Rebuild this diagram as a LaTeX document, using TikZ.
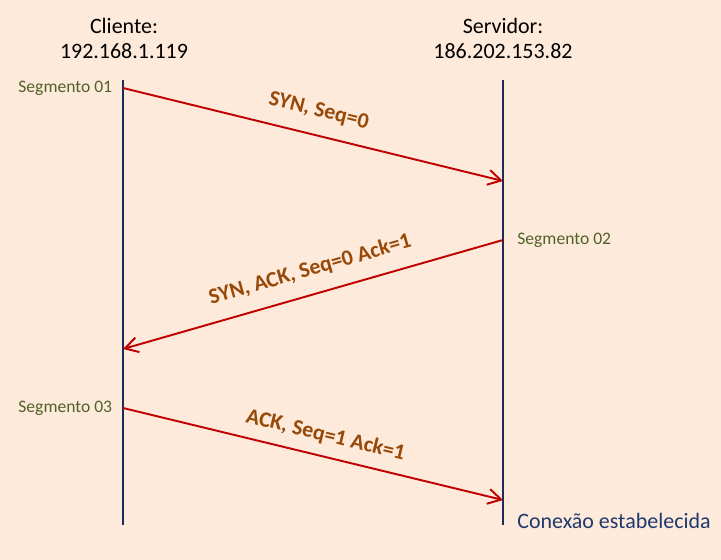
\documentclass[tikz,border=0pt]{standalone}
\usepackage{fontspec}
\setmainfont{Carlito}
\usepackage{xcolor}
\definecolor{cBg}{HTML}{FDEADA}
\definecolor{cLine}{HTML}{1C2A5C}
\definecolor{cMsg}{HTML}{C00000}
\definecolor{cLabel}{HTML}{984807}
\definecolor{cSeg}{HTML}{4F6228}
\definecolor{cNote}{HTML}{1F3A6E}
\usepackage{tikz}
\usetikzlibrary{positioning,arrows.meta}
\tikzset{
  host-label/.style={align=center,inner sep=0pt,
    font=\fontsize{12.5}{14.2}\selectfont},
  seg-label/.style={text=cSeg,inner sep=0pt,font=\fontsize{10}{12}\selectfont},
  note-label/.style={text=cNote,inner sep=0pt,font=\fontsize{12.5}{15}\selectfont},
  msg-label/.style={text=cLabel,inner sep=0pt,sloped,above=8pt,
    font=\bfseries\fontsize{12.5}{15}\selectfont},
  lifeline/.style={draw=cLine,line width=1.2pt},
  arrow-msg/.style={-{Straight Barb[length=2.6mm,width=3mm]},line width=1.1pt,draw=cMsg},
}

\begin{document}
\begin{tikzpicture}[x=0.02cm,y=-0.02cm]
  \fill[cBg] (0,0) rectangle (721,560);

  % hosts
  \node[host-label] (cli) at (124,38) {Cliente:\\192.168.1.119};
  \node[host-label] (srv) at (503,38) {Servidor:\\186.202.153.82};

  \coordinate (cli-top) at (123,80);
  \coordinate (cli-bot) at (123,525);
  \coordinate (srv-top) at (503,80);
  \coordinate (srv-bot) at (503,525);
  \draw[lifeline] (cli-top) -- (cli-bot);
  \draw[lifeline] (srv-top) -- (srv-bot);

  % segment end points
  \coordinate (s1a) at (123,88);
  \coordinate (s1b) at (503,181);
  \coordinate (s2a) at (503,240);
  \coordinate (s2b) at (123,349);
  \coordinate (s3a) at (123,408);
  \coordinate (s3b) at (503,500);

  \node[seg-label,left=6pt of s1a] (seg1) {Segmento 01};
  \node[seg-label,right=8pt of s2a] (seg2) {Segmento 02};
  \node[seg-label,left=6pt of s3a] (seg3) {Segmento 03};

  \draw[arrow-msg] (s1a) -- node[msg-label] {SYN, Seq=0} (s1b);
  \draw[arrow-msg] (s2a) -- node[msg-label,pos=0.49] {SYN, ACK, Seq=0 Ack=1} (s2b);
  \draw[arrow-msg] (s3a) -- node[msg-label,pos=0.52,above=6pt] {ACK, Seq=1 Ack=1} (s3b);

  \node[note-label,anchor=west] (est) at (517,521) {Conexão estabelecida};
\end{tikzpicture}
\end{document}
